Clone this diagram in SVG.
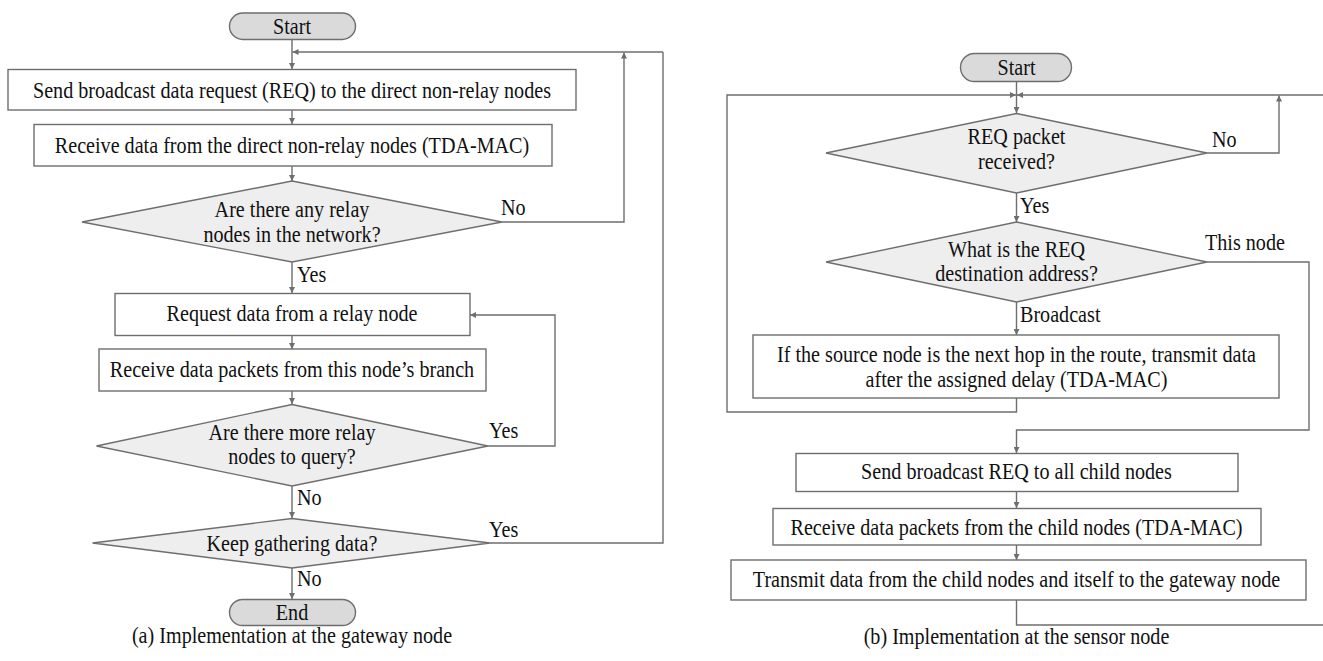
<svg xmlns="http://www.w3.org/2000/svg" width="1323" height="661" viewBox="0 0 1323 661">
<defs>
<style>
.box{fill:#ffffff;stroke:#6e6e6e;stroke-width:1.4}
.dia{fill:#eeeeee;stroke:#6e6e6e;stroke-width:1.4}
.pill{fill:#dadada;stroke:#6e6e6e;stroke-width:1.4}
.ln{fill:none;stroke:#6e6e6e;stroke-width:1.4}
.t{font-family:"Liberation Serif","Times New Roman",serif;font-size:23px;fill:#111111}
.c{text-anchor:middle}
</style>
<marker id="ah" viewBox="0 0 10 10" refX="10" refY="5" markerWidth="7" markerHeight="6" markerUnits="userSpaceOnUse" orient="auto">
<path d="M0,0 L10,5 L0,10 Z" fill="#6e6e6e"/>
</marker>
</defs>
<rect width="1323" height="661" fill="#ffffff"/>

<g id="connectors">
<line class="ln" x1="292" y1="39.5" x2="292" y2="69" marker-end="url(#ah)"/>
<line class="ln" x1="663" y1="52" x2="292.5" y2="52" marker-end="url(#ah)"/>
<line class="ln" x1="292" y1="110" x2="292" y2="124" marker-end="url(#ah)"/>
<line class="ln" x1="292" y1="166" x2="292" y2="181" marker-end="url(#ah)"/>
<polyline class="ln" points="502,222 624,222 624,52.5" marker-end="url(#ah)"/>
<line class="ln" x1="292" y1="262" x2="292" y2="293" marker-end="url(#ah)"/>
<line class="ln" x1="292" y1="336" x2="292" y2="349" marker-end="url(#ah)"/>
<line class="ln" x1="292" y1="391" x2="292" y2="404" marker-end="url(#ah)"/>
<polyline class="ln" points="488,446 555,446 555,315 470,315" marker-end="url(#ah)"/>
<line class="ln" x1="292" y1="486" x2="292" y2="518" marker-end="url(#ah)"/>
<polyline class="ln" points="490,543 663,543 663,52"/>
<line class="ln" x1="292" y1="568" x2="292" y2="599" marker-end="url(#ah)"/>
<line class="ln" x1="1016.5" y1="82" x2="1016.5" y2="113" marker-end="url(#ah)"/>
<polyline class="ln" points="1016.5,398 1016.5,412 727,412 727,95 1016,95" marker-end="url(#ah)"/>
<line class="ln" x1="1323" y1="95" x2="1017" y2="95" marker-end="url(#ah)"/>
<polyline class="ln" points="1207,153 1279,153 1279,95.5" marker-end="url(#ah)"/>
<line class="ln" x1="1016.5" y1="193" x2="1016.5" y2="222" marker-end="url(#ah)"/>
<line class="ln" x1="1016.5" y1="302" x2="1016.5" y2="335" marker-end="url(#ah)"/>
<polyline class="ln" points="1207,262 1309,262 1309,430 1016.5,430 1016.5,453" marker-end="url(#ah)"/>
<line class="ln" x1="1016.5" y1="492" x2="1016.5" y2="508" marker-end="url(#ah)"/>
<line class="ln" x1="1016.5" y1="545" x2="1016.5" y2="560" marker-end="url(#ah)"/>
<polyline class="ln" points="1016.5,600 1016.5,625 1323,625"/>
</g>

<g id="a-start"><rect class="pill" x="229.5" y="13" width="126" height="26.5" rx="13.25"/><text class="t c" transform="translate(292,33.5) scale(0.875,1)">Start</text></g>
<g id="a-send"><rect class="box" x="8" y="69.5" width="568" height="40.5"/><text class="t c" transform="translate(292,98) scale(0.875,1)">Send broadcast data request (REQ) to the direct non-relay nodes</text></g>
<g id="a-recv"><rect class="box" x="34" y="124.5" width="518" height="41.5"/><text class="t c" transform="translate(292,153) scale(0.875,1)">Receive data from the direct non-relay nodes (TDA-MAC)</text></g>
<g id="a-relay"><polygon class="dia" points="292,181 502,222 292,262 82,222"/><text class="t c" transform="translate(292,217) scale(0.875,1)">Are there any relay</text><text class="t c" transform="translate(292,241.5) scale(0.875,1)">nodes in the network?</text></g>
<g id="a-req"><rect class="box" x="115" y="293.5" width="355" height="42"/><text class="t c" transform="translate(292,321) scale(0.875,1)">Request data from a relay node</text></g>
<g id="a-branch"><rect class="box" x="99" y="349" width="387" height="42"/><text class="t c" transform="translate(292,376.5) scale(0.875,1)">Receive data packets from this node’s branch</text></g>
<g id="a-more"><polygon class="dia" points="292,404.5 488,446 292,486 96.5,446"/><text class="t c" transform="translate(292,440) scale(0.875,1)">Are there more relay</text><text class="t c" transform="translate(292,464) scale(0.875,1)">nodes to query?</text></g>
<g id="a-keep"><polygon class="dia" points="292,518.5 490,543 292,568 92.5,543"/><text class="t c" transform="translate(292,551) scale(0.875,1)">Keep gathering data?</text></g>
<g id="a-end"><rect class="pill" x="229.5" y="599.5" width="126" height="26" rx="13"/><text class="t c" transform="translate(292,619.5) scale(0.875,1)">End</text></g>
<g id="a-labels">
<text class="t" transform="translate(501,215) scale(0.875,1)">No</text>
<text class="t" transform="translate(297,282) scale(0.875,1)">Yes</text>
<text class="t" transform="translate(489,438) scale(0.875,1)">Yes</text>
<text class="t" transform="translate(297,505) scale(0.875,1)">No</text>
<text class="t" transform="translate(489,537) scale(0.875,1)">Yes</text>
<text class="t" transform="translate(297,586) scale(0.875,1)">No</text>
<text class="t c" transform="translate(292,643) scale(0.875,1)">(a) Implementation at the gateway node</text>
</g>

<g id="b-start"><rect class="pill" x="960.5" y="53.5" width="111" height="28" rx="14"/><text class="t c" transform="translate(1016.5,75) scale(0.875,1)">Start</text></g>
<g id="b-reqrx"><polygon class="dia" points="1016.5,113.5 1207,153 1016.5,193 826,153"/><text class="t c" transform="translate(1016.5,143.5) scale(0.875,1)">REQ packet</text><text class="t c" transform="translate(1016.5,168.5) scale(0.875,1)">received?</text></g>
<g id="b-dest"><polygon class="dia" points="1016.5,222 1207,262 1016.5,302 826,262"/><text class="t c" transform="translate(1016.5,257) scale(0.875,1)">What is the REQ</text><text class="t c" transform="translate(1016.5,280.5) scale(0.875,1)">destination address?</text></g>
<g id="b-tx"><rect class="box" x="753" y="335" width="526" height="63"/><text class="t c" transform="translate(1016.5,362) scale(0.875,1)">If the source node is the next hop in the route, transmit data</text><text class="t c" transform="translate(1016.5,387) scale(0.875,1)">after the assigned delay (TDA-MAC)</text></g>
<g id="b-bcast"><rect class="box" x="796" y="453.5" width="442" height="38"/><text class="t c" transform="translate(1016.5,478.5) scale(0.875,1)">Send broadcast REQ to all child nodes</text></g>
<g id="b-rxchild"><rect class="box" x="773" y="508.5" width="488" height="36.5"/><text class="t c" transform="translate(1016.5,534.5) scale(0.875,1)">Receive data packets from the child nodes (TDA-MAC)</text></g>
<g id="b-txgw"><rect class="box" x="731" y="560" width="575" height="40"/><text class="t c" transform="translate(1016.5,587) scale(0.875,1)">Transmit data from the child nodes and itself to the gateway node</text></g>
<g id="b-labels">
<text class="t" transform="translate(1212,147) scale(0.875,1)">No</text>
<text class="t" transform="translate(1020,213) scale(0.875,1)">Yes</text>
<text class="t" transform="translate(1205,250) scale(0.875,1)">This node</text>
<text class="t" transform="translate(1020,322) scale(0.875,1)">Broadcast</text>
<text class="t c" transform="translate(1016.5,643.5) scale(0.875,1)">(b) Implementation at the sensor node</text>
</g>
</svg>
